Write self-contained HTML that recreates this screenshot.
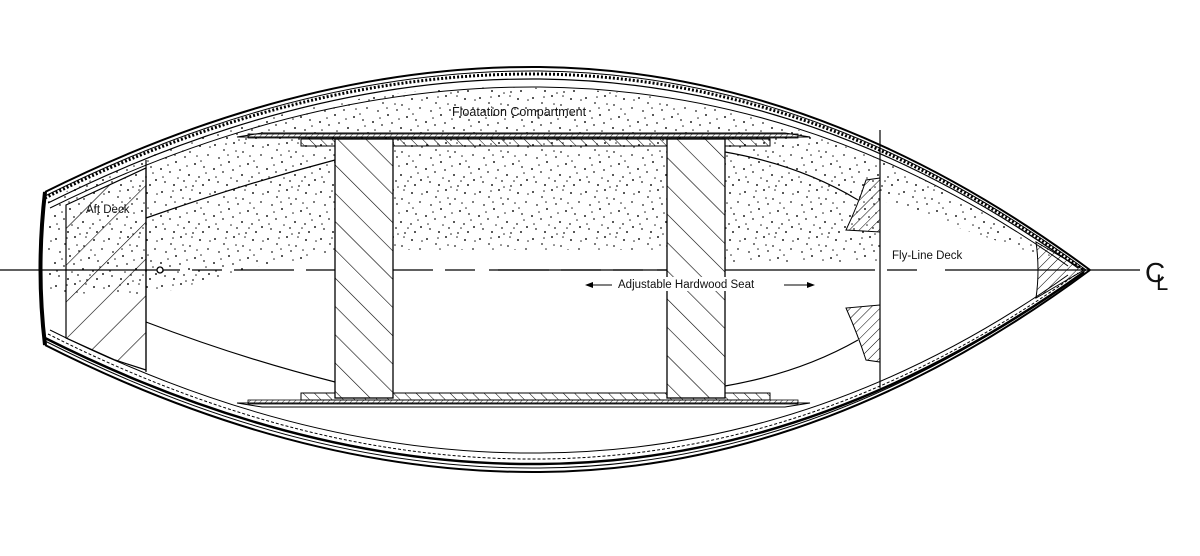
<!DOCTYPE html>
<html><head><meta charset="utf-8"><style>
html,body{margin:0;padding:0;background:#fff;}
svg{display:block;}
text{font-family:"Liberation Sans",sans-serif;fill:#111;}
</style></head><body>
<svg width="1200" height="556" viewBox="0 0 1200 556" xmlns="http://www.w3.org/2000/svg">
<defs>
<pattern id="stip" width="53" height="47" patternUnits="userSpaceOnUse">
<g fill="#222">
<circle cx="3" cy="4" r="1"/><circle cx="12" cy="9" r="0.9"/><circle cx="22" cy="2" r="1"/><circle cx="31" cy="11" r="0.9"/><circle cx="41" cy="5" r="1"/><circle cx="49" cy="14" r="0.9"/>
<circle cx="7" cy="17" r="0.9"/><circle cx="17" cy="21" r="1"/><circle cx="26" cy="16" r="0.9"/><circle cx="36" cy="23" r="1"/><circle cx="45" cy="26" r="0.9"/>
<circle cx="2" cy="28" r="1"/><circle cx="11" cy="31" r="0.9"/><circle cx="21" cy="29" r="0.9"/><circle cx="30" cy="34" r="1"/><circle cx="40" cy="36" r="0.9"/><circle cx="50" cy="39" r="1"/>
<circle cx="6" cy="41" r="0.9"/><circle cx="15" cy="44" r="1"/><circle cx="25" cy="40" r="0.9"/><circle cx="34" cy="45" r="0.9"/><circle cx="44" cy="44" r="1"/>
<circle cx="9" cy="24" r="0.8"/><circle cx="38" cy="15" r="0.8"/><circle cx="28" cy="25" r="0.8"/><circle cx="19" cy="37" r="0.8"/><circle cx="47" cy="32" r="0.8"/><circle cx="14" cy="3" r="0.8"/>
<circle cx="33" cy="2" r="0.8"/><circle cx="4" cy="36" r="0.8"/><circle cx="42" cy="20" r="0.8"/><circle cx="24" cy="10" r="0.8"/><circle cx="16" cy="14" r="0.8"/><circle cx="37" cy="40" r="0.8"/><circle cx="51" cy="6" r="0.8"/><circle cx="27" cy="46" r="0.8"/>
</g></pattern>
<pattern id="hseat" width="20" height="20" patternUnits="userSpaceOnUse" patternTransform="rotate(-45)">
<line x1="0" y1="0" x2="0" y2="20" stroke="#000" stroke-width="1.2"/></pattern>
<pattern id="haft" width="26" height="26" patternUnits="userSpaceOnUse" patternTransform="rotate(45)">
<line x1="0" y1="0" x2="0" y2="26" stroke="#000" stroke-width="1.2"/></pattern>
<pattern id="hfine" width="4" height="4" patternUnits="userSpaceOnUse" patternTransform="rotate(45)">
<line x1="0" y1="0" x2="0" y2="4" stroke="#000" stroke-width="0.8"/></pattern>
<pattern id="hmed" width="7" height="7" patternUnits="userSpaceOnUse" patternTransform="rotate(45)">
<line x1="0" y1="0" x2="0" y2="7" stroke="#000" stroke-width="1"/></pattern>
<pattern id="hcap" width="8" height="8" patternUnits="userSpaceOnUse" patternTransform="rotate(-45)">
<line x1="0" y1="0" x2="0" y2="8" stroke="#000" stroke-width="1"/></pattern>
<clipPath id="sc"><path d="M48,292 L48,200 Q300,78 540,88 Q820,92 1060,262 L950,225 L880,200 L880,262 L725,262 L667,250 L395,250 L335,255 L260,266 L150,296 Z"/></clipPath>
</defs>

<rect x="0" y="0" width="1200" height="556" fill="url(#stip)" clip-path="url(#sc)"/>

<g fill="none" stroke="#000">
<path d="M45,192 Q300,65 540,67 Q820,70 1090,270" stroke-width="2"/>
<path d="M45,196 Q300,69 540,71 Q820,74 1086,270" stroke-width="1"/>
<path d="M45,198 Q300,72 540,74 Q820,77 1084,270" stroke-width="3" stroke-dasharray="2,2"/>
<path d="M48,203 Q300,77 540,79 Q820,82 1078,268" stroke-width="1.2"/>
<path d="M50,208 Q300,85 540,87 Q820,90 1068,266" stroke-width="1"/>
<path d="M45,345 Q300,474 540,472 Q820,470 1090,270" stroke-width="2"/>
<path d="M45,341 Q300,470 540,468 Q820,466 1086,270" stroke-width="1"/>
<path d="M45,338 Q300,466 540,464 Q820,462 1084,272" stroke-width="2.5"/>
<path d="M48,334 Q300,461 540,459 Q820,457 1078,273" stroke-width="1" stroke-dasharray="3,2"/>
<path d="M50,330 Q300,455 540,453 Q820,451 1068,275" stroke-width="1"/>
<path d="M45,192 Q36,270 45,345" stroke-width="4"/>
</g>

<path d="M66,205 L146,168 L146,370 L115,360 L66,338 Z" fill="url(#haft)" stroke="#000" stroke-width="1.2"/>
<line x1="146" y1="160" x2="146" y2="372" stroke="#000" stroke-width="1.2"/>
<g fill="none" stroke="#000" stroke-width="1.2">
<path d="M146,218 Q240,185 335,160"/>
<path d="M146,322 Q240,358 335,382"/>
<path d="M725,152 Q800,165 858,200"/>
<path d="M725,386 Q800,373 858,340"/>
</g>
<line x1="880" y1="130" x2="880" y2="388" stroke="#000" stroke-width="1.2"/>
<path d="M880,178 L866,180 Q858,205 846,230 L880,232 Z" fill="url(#hmed)" stroke="#000" stroke-width="1"/>
<path d="M880,305 L846,308 Q858,335 866,360 L880,362 Z" fill="url(#hmed)" stroke="#000" stroke-width="1"/>
<path d="M1036,242 Q1040,270 1036,298 L1084,270 Z" fill="url(#hmed)" stroke="#000" stroke-width="1"/>

<path d="M237,137 L810,137 L785,133 L262,133 Z" fill="#fff" stroke="#000"/>
<rect x="248" y="134" width="550" height="4" fill="url(#hfine)" stroke="#000" stroke-width="0.8"/>
<rect x="301" y="139" width="469" height="7" fill="url(#hcap)" stroke="#000" stroke-width="1"/>
<path d="M237,403 L810,403 L785,407 L262,407 Z" fill="#fff" stroke="#000"/>
<rect x="248" y="400" width="550" height="4" fill="url(#hfine)" stroke="#000" stroke-width="0.8"/>
<rect x="301" y="393" width="469" height="7" fill="url(#hcap)" stroke="#000" stroke-width="1"/>
<rect x="335" y="139" width="58" height="259" fill="#fff" stroke="none"/>
<rect x="335" y="139" width="58" height="259" fill="url(#hseat)" stroke="#000" stroke-width="1.3"/>
<rect x="667" y="139" width="58" height="259" fill="#fff" stroke="none"/>
<rect x="667" y="139" width="58" height="259" fill="url(#hseat)" stroke="#000" stroke-width="1.3"/>

<line x1="0" y1="270" x2="335" y2="270" stroke="#000" stroke-width="1.2" stroke-dasharray="180,12,30,12,60,12,45,14"/>
<line x1="393" y1="270" x2="667" y2="270" stroke="#000" stroke-width="1.2" stroke-dasharray="40,12,30,14,60,12"/>
<line x1="498" y1="270" x2="667" y2="270" stroke="#000" stroke-width="1.2"/>
<line x1="725" y1="270" x2="1140" y2="270" stroke="#000" stroke-width="1.2" stroke-dasharray="150,12,30,28,200"/>
<circle cx="160" cy="270" r="3" fill="#fff" stroke="#000" stroke-width="1.3"/>

<text x="452" y="116" font-size="12.5">Floatation Compartment</text>
<text x="86" y="213" font-size="11.5">Aft Deck</text>
<text x="892" y="259" font-size="11.5">Fly-Line Deck</text>
<rect x="614" y="277" width="166" height="14" fill="#fff"/>
<text x="618" y="288" font-size="11.5">Adjustable Hardwood Seat</text>
<g stroke="#000" stroke-width="1">
<line x1="588" y1="285" x2="612" y2="285"/><line x1="784" y1="285" x2="812" y2="285"/>
</g>
<path d="M585,285 L593,282 L593,288 Z"/><path d="M815,285 L807,282 L807,288 Z"/>
<text x="1145" y="282" font-size="28">C</text>
<text x="1156" y="290" font-size="22">L</text>
</svg>
</body></html>
